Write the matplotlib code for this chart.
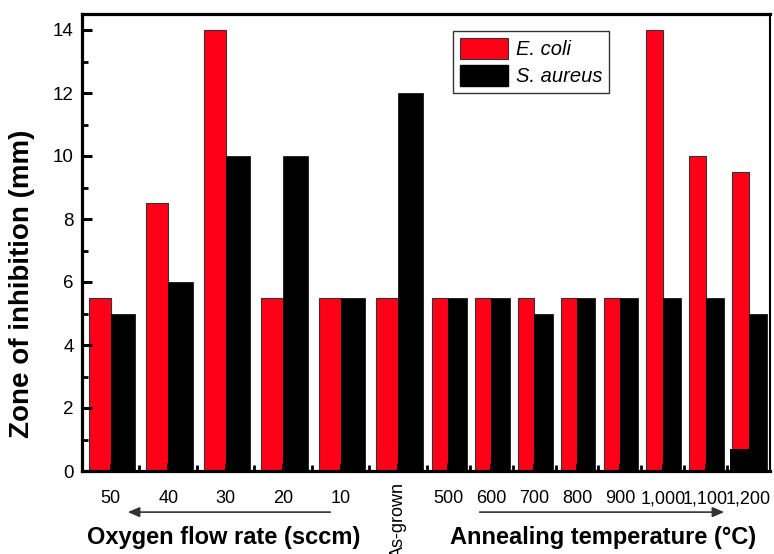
import numpy as np
import matplotlib
matplotlib.use('Agg')
import matplotlib.pyplot as plt
import matplotlib.transforms as mtransforms
from matplotlib.patches import Patch

plt.rcParams['font.family'] = ['Liberation Sans', 'DejaVu Sans']

# Data
oxygen_labels = ['50', '40', '30', '20', '10', 'As-grown']
anneal_labels = ['500', '600', '700', '800', '900', '1,000', '1,100', '1,200']
e_coli = [5.5, 8.5, 14, 5.5, 5.5, 5.5, 5.5, 5.5, 5.5, 5.5, 5.5, 14, 10, 9.5]
s_aureus = [5, 6, 10, 10, 5.5, 12, 5.5, 5.5, 5, 5.5, 5.5, 5.5, 5.5, 5]
block_1200 = 0.7  # short black block at the foot of the last group

red = '#ff0019'

# group widths: oxygen groups are wider than annealing groups
w_ox, w_an = 1.34, 1.0
widths = np.array([w_ox] * len(oxygen_labels) + [w_an] * len(anneal_labels))
edges = np.concatenate([[0], np.cumsum(widths)])
centers = edges[:-1] + widths / 2
labels = oxygen_labels + anneal_labels

fig = plt.figure(figsize=(7.74, 5.54), dpi=100)
ax = fig.add_axes([82 / 774, 83 / 554, 688 / 774, 456.75 / 554])

ax.bar(centers, e_coli, width=0.38 * widths, align='edge', color=red,
       edgecolor='#333333', linewidth=0.8, zorder=1)
# red bars end at the group centre
for p in ax.patches:
    p.set_x(p.get_x() - p.get_width())
ax.bar(centers, s_aureus, width=0.43 * widths, align='edge', color='black',
       edgecolor='black', linewidth=0.5, zorder=1)
ax.bar(centers[-1], block_1200, width=0.88 * widths[-1], color='black', zorder=1)

ax.set_xlim(0, edges[-1])
ax.set_ylim(0, 14.5)

# y ticks
ax.set_yticks(np.arange(0, 15, 2))
ax.set_yticks(np.arange(1, 14, 2), minor=True)
ax.tick_params(axis='y', which='major', direction='in', length=7, width=2.2,
               labelsize=13.5, pad=6)
ax.tick_params(axis='y', which='minor', direction='in', length=4, width=2)

# x ticks: marks at group boundaries, labels at centres
ax.set_xticks(edges[1:-1])
ax.set_xticklabels([])
ax.set_xticks(centers, minor=True)
ax.set_xticklabels(labels, minor=True)
ax.tick_params(axis='x', which='major', direction='in', length=4, width=2)
ax.tick_params(axis='x', which='minor', direction='in', length=6, width=2,
               labelsize=13, pad=14)
shift_up = mtransforms.ScaledTranslation(0, 8 / 100, fig.dpi_scale_trans)
for t in ax.xaxis.get_minorticklabels():
    if t.get_text() == 'As-grown':
        t.set_rotation(90)
        t.set_va('top')
        t.set_transform(t.get_transform() + shift_up)

for s in ['left', 'bottom', 'top']:
    ax.spines[s].set_linewidth(2.3)
ax.spines['right'].set_linewidth(1.5)

ax.set_ylabel('Zone of inhibition (mm)', fontsize=20, fontweight='bold')
ax.yaxis.set_label_coords(-0.068, 0.41)

# group captions with arrows
arr = dict(arrowstyle='-|>,head_length=0.7,head_width=0.3', color='#333333', lw=1.2)
ax.annotate('', xy=(0.0625, -0.09), xytext=(0.365, -0.09),
            xycoords='axes fraction', arrowprops=arr, annotation_clip=False)
ax.annotate('', xy=(0.9375, -0.09), xytext=(0.574, -0.09),
            xycoords='axes fraction', arrowprops=arr, annotation_clip=False)
ax.text(0.206, -0.145, 'Oxygen flow rate (sccm)', transform=ax.transAxes,
        ha='center', va='center', fontsize=17, fontweight='bold')
ax.text(0.757, -0.145, 'Annealing temperature (°C)', transform=ax.transAxes,
        ha='center', va='center', fontsize=17, fontweight='bold')

handles = [Patch(facecolor=red, edgecolor='#333333', linewidth=0.8),
           Patch(facecolor='black', edgecolor='black')]
leg = ax.legend(handles, ['E. coli', 'S. aureus'], loc='upper left',
                bbox_to_anchor=(0.539, 0.963), borderaxespad=0, fancybox=False,
                edgecolor='#333333', framealpha=1, handlelength=2.38,
                handleheight=1.19, labelspacing=0.3, handletextpad=0.4,
                borderpad=0.35, prop={'size': 14.5, 'style': 'italic'})
leg.get_frame().set_linewidth(1.0)

plt.savefig('out.png', dpi=100)
